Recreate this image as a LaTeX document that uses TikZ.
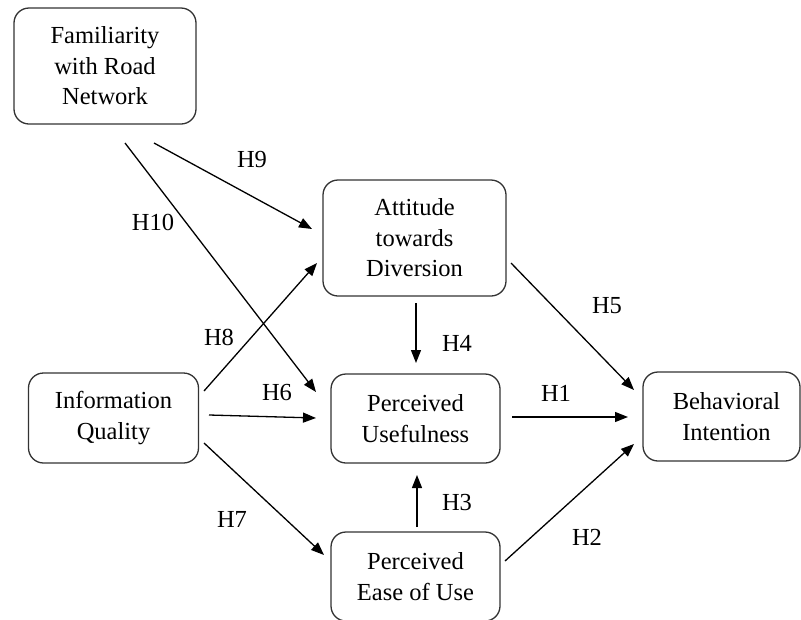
\documentclass[tikz,border=0pt]{standalone}
\usepackage{fontspec}
\setmainfont{Liberation Serif}
\usetikzlibrary{arrows.meta}
\begin{document}
\begin{tikzpicture}[x=1pt,y=-1pt,
  box/.style={draw=black!80, line width=1.3pt, rounded corners=15pt, align=center,
    font=\fontsize{24.5}{30.5}\selectfont, inner sep=0pt},
  arr/.style={line width=1.3pt, -{Triangle[length=13pt,width=10pt]}},
  lab/.style={font=\fontsize{24.5}{30}\selectfont, inner sep=0pt}]
\useasboundingbox (0,0) rectangle (801,619);
\clip (0,0) rectangle (801,619);
% boxes
\node[box, minimum width=182pt, minimum height=116pt] (fam) at (105,66) {Familiarity\\with Road\\Network};
\node[box, minimum width=183pt, minimum height=116pt] (att) at (414.5,238) {Attitude\\towards\\Diversion};
\node[box, minimum width=170pt, minimum height=90pt] (iq) at (113.5,418) {Information\\Quality};
\node[box, minimum width=169pt, minimum height=89pt] (pu) at (415.5,418.5) {Perceived\\Usefulness};
\node[box, minimum width=169pt, minimum height=89pt] (peou) at (415.5,576.5) {Perceived\\Ease of Use};
\node[box, minimum width=157pt, minimum height=89pt] (bi) at (721.5,416.5) {\hspace*{10pt}Behavioral\\\hspace*{10pt}Intention};
% connector end points
\coordinate (h9a) at (154,143);  \coordinate (h9b) at (312,229);
\coordinate (h10a) at (125,143); \coordinate (h10b) at (316,392);
\coordinate (h8a) at (204,391);  \coordinate (h8b) at (317,263);
\coordinate (h6a) at (209,415);  \coordinate (h6b) at (316,418);
\coordinate (h7a) at (204,443);  \coordinate (h7b) at (324,555);
\coordinate (h4a) at (416,303);  \coordinate (h4b) at (416,363);
\coordinate (h1a) at (512,417);  \coordinate (h1b) at (628,417);
\coordinate (h5a) at (511,263);  \coordinate (h5b) at (634,390);
\coordinate (h3a) at (417,527);  \coordinate (h3b) at (417,475);
\coordinate (h2a) at (505,561);  \coordinate (h2b) at (634,444);
% connectors
\draw[arr] (h9a) -- (h9b);
\draw[arr] (h10a) -- (h10b);
\draw[arr] (h8a) -- (h8b);
\draw[arr] (h6a) -- (h6b);
\draw[arr] (h7a) -- (h7b);
\draw[arr] (h4a) -- (h4b);
\draw[arr] (h1a) -- (h1b);
\draw[arr] (h5a) -- (h5b);
\draw[arr] (h3a) -- (h3b);
\draw[arr] (h2a) -- (h2b);
% labels
\node[lab] (l9) at (252,160) {H9};
\node[lab] (l10) at (153,222) {H10};
\node[lab] (l8) at (219,337) {H8};
\node[lab] (l6) at (277,393) {H6};
\node[lab] (l7) at (232,519) {H7};
\node[lab] (l4) at (457,343) {H4};
\node[lab] (l5) at (607,306) {H5};
\node[lab] (l1) at (556,393) {H1};
\node[lab] (l3) at (457,503) {H3};
\node[lab] (l2) at (587,537) {H2};
\end{tikzpicture}
\end{document}
